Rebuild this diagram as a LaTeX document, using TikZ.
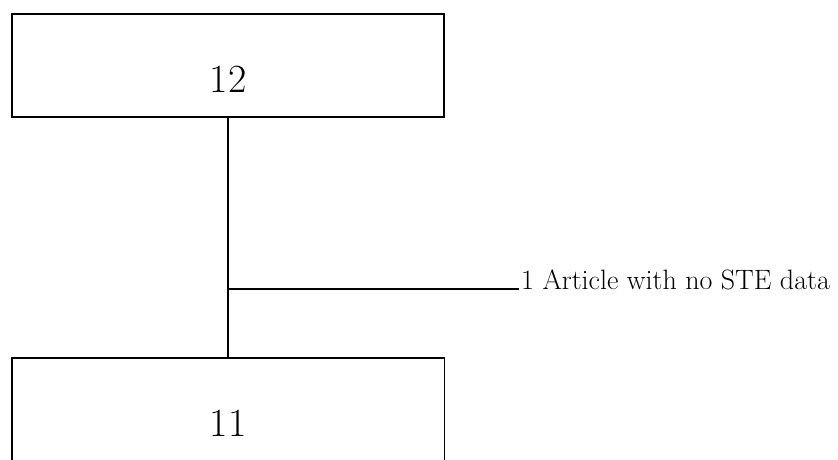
\documentclass[tikz,border=0pt]{standalone}
\usetikzlibrary{calc}
\begin{document}
\begin{tikzpicture}[x=1pt,y=1pt,
  box/.style={draw,line width=1.4pt,minimum width=432pt,inner sep=0pt},
  conn/.style={line width=1.3pt},
  num/.style={inner sep=0pt,font=\fontsize{40}{48}\selectfont},
  lbl/.style={inner xsep=2pt,inner ysep=0pt,anchor=base west,font=\fontsize{28}{34}\selectfont}]
\useasboundingbox (0,0) rectangle (838,459);
% top box
\node[box,minimum height=103pt] (t) at (228,393.5) {};
\node[num] (tn) at (228,380) {12};
% bottom box (cut by the lower edge)
\node[draw=none,minimum width=432pt,minimum height=111pt,inner sep=0pt] (b) at (228,45.5) {};
\draw[line width=1.4pt] (b.south west) -- (b.north west) -- (b.north east) -- (b.south east);
\node[num] (bn) at (228,36) {11};
% connectors
\coordinate (j) at (228,170);
\node[lbl] (lab) at (519,170) {1 Article with no STE data};
\draw[conn] (t.south) -- (b.north);
\draw[conn] (j) -- (j -| lab.west);
\end{tikzpicture}
\end{document}
